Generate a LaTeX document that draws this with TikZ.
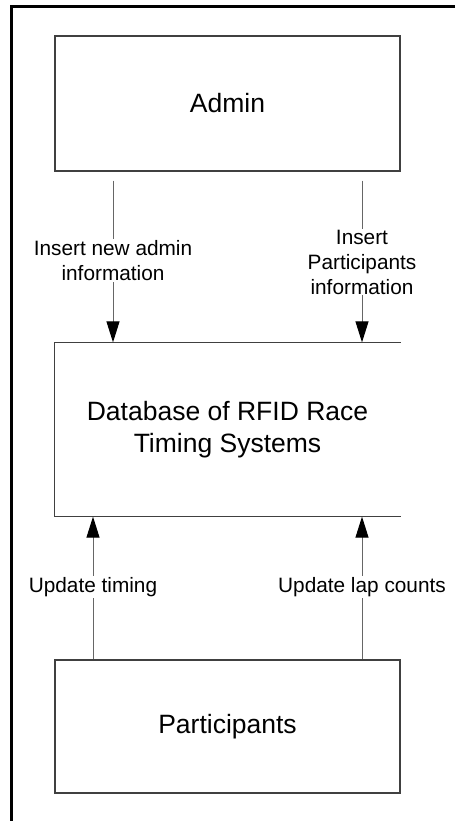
\documentclass[tikz,border=0pt]{standalone}
\usepackage{fontspec}
\setmainfont{Liberation Sans}
\usetikzlibrary{arrows.meta}
\begin{document}
\begin{tikzpicture}[x=1pt,y=-1pt,
  entity/.style={draw=black!75,line width=1.3pt,minimum width=345pt,inner sep=0pt,
    font=\fontsize{26.5}{32}\selectfont,align=center},
  flow/.style={draw=black!60,line width=1pt,
    -{Triangle[length=21pt,width=13pt,color=black,fill=black]}},
  lbl/.style={fill=white,inner sep=1pt,align=center,text=black,
    font=\fontsize{20.8}{25}\selectfont},
  frame/.style={draw=black,line width=2.2pt}]
\useasboundingbox (0,0) rectangle (455,821);
% page frame (top and left edges)
\draw[frame] (455,6.5) -- (11.5,6.5) -- (11.5,821);
% entities
\node[entity,minimum height=135pt] (admin) at (227.5,103.5) {Admin};
\node[entity,draw=none,minimum height=173pt] (db) at (227.5,429.5) {Database of RFID Race\\Timing Systems};
\draw[draw=black!75,line width=1.3pt] (db.north east) -- (db.north west) -- (db.south west) -- (db.south east);
\node[entity,minimum height=133pt] (part) at (227.5,726.5) {Participants};
% column positions of the flows
\coordinate (xa) at (113,0);
\coordinate (xb) at (362,0);
\coordinate (xc) at (93,0);
% flows from Admin
\draw[flow,shorten <=9pt] (admin.south -| xa) -- (db.north -| xa)
  node[lbl,pos=0.52] (l1) {Insert new admin\\information};
\draw[flow,shorten <=9pt] (admin.south -| xb) -- (db.north -| xb)
  node[lbl,pos=0.53] (l2) {Insert\\Participants\\information};
% flows from Participants
\draw[flow] (part.north -| xc) -- (db.south -| xc)
  node[lbl,pos=0.507] (l3) {Update timing};
\draw[flow] (part.north -| xb) -- (db.south -| xb)
  node[lbl,pos=0.507] (l4) {Update lap counts};
\end{tikzpicture}
\end{document}
